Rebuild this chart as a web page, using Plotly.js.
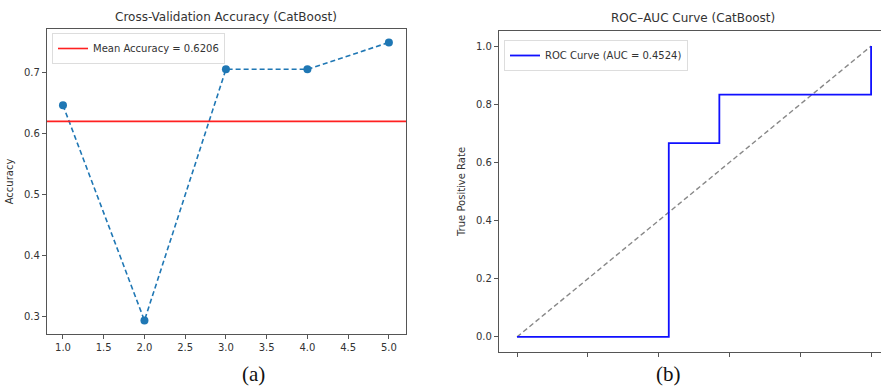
<!DOCTYPE html>
<html><head><meta charset="utf-8">
<script src="https://cdn.plot.ly/plotly-3.0.1.min.js"></script>
<style>html,body{margin:0;padding:0;background:#fff;}#chart{width:881px;height:388px;}</style>
</head><body><div id="chart"></div>
<script>
// Data
const folds = [1, 2, 3, 4, 5];
const accuracy = [0.6471, 0.2941, 0.7059, 0.7059, 0.7500];
const meanAccuracy = 0.6206;
const fpr = [0, 0.4286, 0.4286, 0.5714, 0.5714, 1.0, 1.0];
const tpr = [0, 0, 0.6667, 0.6667, 0.8333, 0.8333, 1.0];
const chanceX = [0, 1];
const chanceY = [0, 1];
const accTicks = [1.0, 1.5, 2.0, 2.5, 3.0, 3.5, 4.0, 4.5, 5.0];
const accYTicks = [0.3, 0.4, 0.5, 0.6, 0.7];
const rocTicks = [0, 0.2, 0.4, 0.6, 0.8, 1.0];

const xr1 = [0.804, 5.21];
const yr1 = [0.272, 0.772];
const xr2 = [-0.051, 1.028];
const yr2 = [-0.052, 1.052];

const W = 881, H = 388;
const tickFont = {family: 'DejaVu Sans', size: 10, color: '#333'};
const axisCommon = {showgrid: false, zeroline: false, showline: true, linecolor: '#555', linewidth: 1.2,
  ticks: 'outside', ticklen: 4, tickcolor: '#555', tickfont: tickFont};

const traces = [
  {x: folds, y: accuracy, xaxis: 'x', yaxis: 'y', mode: 'lines+markers', showlegend: false,
   line: {color: '#1f77b4', dash: '5px,3px', width: 1.6}, marker: {color: '#1f77b4', size: 8}},
  {x: xr1, y: [meanAccuracy, meanAccuracy], xaxis: 'x', yaxis: 'y', mode: 'lines',
   name: 'Mean Accuracy = ' + meanAccuracy.toFixed(4), legend: 'legend',
   line: {color: '#ff2020', width: 1.6}},
  {x: chanceX, y: chanceY, xaxis: 'x2', yaxis: 'y2', mode: 'lines', showlegend: false,
   line: {color: '#888', dash: '5px,3px', width: 1.4}},
  {x: fpr, y: tpr, xaxis: 'x2', yaxis: 'y2', mode: 'lines', name: 'ROC Curve (AUC = 0.4524)', legend: 'legend2',
   line: {color: '#1010ff', width: 1.8}}
];

const ann = (text, px, py, font) => ({text: text, xref: 'paper', yref: 'paper', x: px / W, y: (H - py) / H,
  xanchor: 'center', yanchor: 'middle', showarrow: false, font: font});

const layout = {
  width: W, height: H, margin: {l: 0, r: 0, t: 0, b: 0},
  paper_bgcolor: '#fff', plot_bgcolor: '#fff',
  xaxis: Object.assign({}, axisCommon, {domain: [47/W, 406/W], range: xr1, tickvals: accTicks,
    ticktext: accTicks.map(v => v.toFixed(1)), mirror: true, anchor: 'y'}),
  yaxis: Object.assign({}, axisCommon, {domain: [(H-334)/H, (H-29)/H], range: yr1, tickvals: accYTicks,
    ticktext: accYTicks.map(v => v.toFixed(1)), mirror: true, anchor: 'x',
    title: {text: 'Accuracy', font: {family: 'DejaVu Sans', size: 10, color: '#333'}, standoff: 8}}),
  xaxis2: Object.assign({}, axisCommon, {domain: [499/W, 1], range: xr2, tickvals: rocTicks,
    showticklabels: false, mirror: true, anchor: 'y2'}),
  yaxis2: Object.assign({}, axisCommon, {domain: [(H-352)/H, (H-31)/H], range: yr2, tickvals: rocTicks,
    ticktext: rocTicks.map(v => v.toFixed(1)), mirror: false, anchor: 'x2',
    title: {text: 'True Positive Rate', font: {family: 'DejaVu Sans', size: 10, color: '#333'}, standoff: 8}}),
  legend: {x: 52/W, y: (H-33)/H, xanchor: 'left', yanchor: 'top', bgcolor: 'rgba(255,255,255,0.9)',
    bordercolor: '#ddd', borderwidth: 1, font: {family: 'DejaVu Sans', size: 10, color: '#333'}},
  legend2: {x: 504/W, y: (H-40)/H, xanchor: 'left', yanchor: 'top', bgcolor: 'rgba(255,255,255,0.9)',
    bordercolor: '#ddd', borderwidth: 1, font: {family: 'DejaVu Sans', size: 10, color: '#333'}},
  annotations: [
    ann('Cross-Validation Accuracy (CatBoost)', 226, 17, {family: 'DejaVu Sans', size: 12, color: '#333'}),
    ann('ROC–AUC Curve (CatBoost)', 693, 18, {family: 'DejaVu Sans', size: 12, color: '#333'}),
    ann('(a)', 253, 374, {family: 'Liberation Serif', size: 21, color: '#111'}),
    ann('(b)', 668, 374, {family: 'Liberation Serif', size: 21, color: '#111'})
  ]
};
Plotly.newPlot('chart', traces, layout, {displayModeBar: false, staticPlot: true});
</script></body></html>
